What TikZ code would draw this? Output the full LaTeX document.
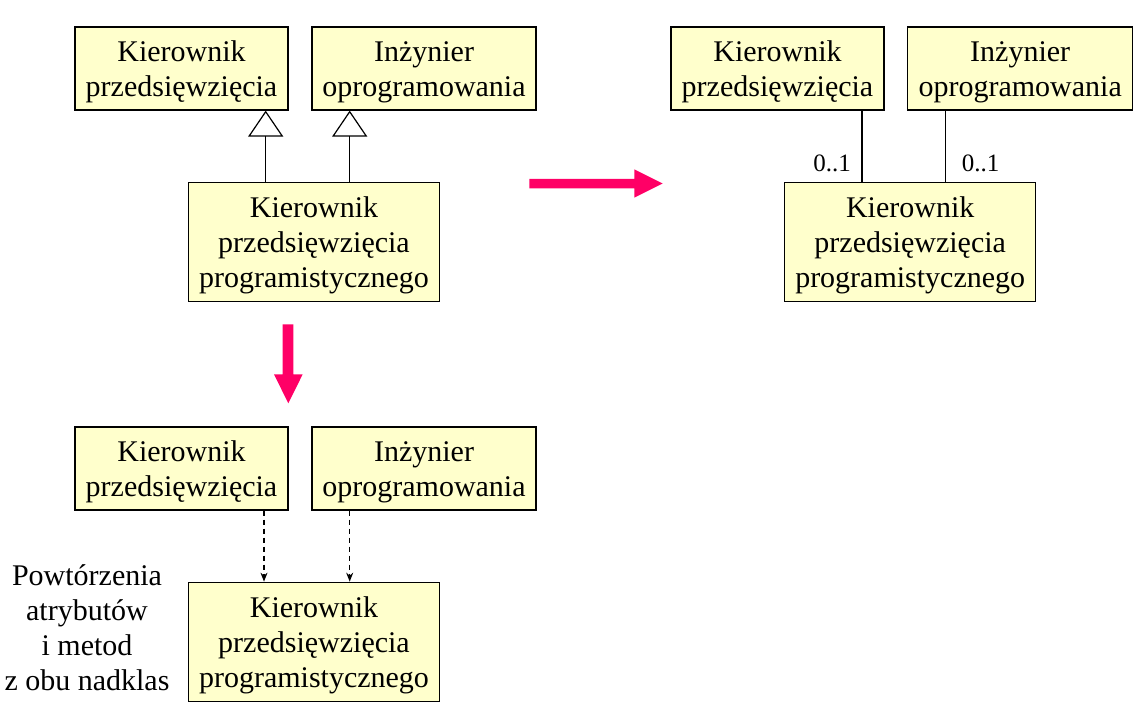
\documentclass[tikz,border=0pt]{standalone}
\usepackage{fontspec}
\setmainfont{Liberation Serif}
\usetikzlibrary{arrows.meta,calc}
\definecolor{boxfill}{HTML}{FFFFCC}
\definecolor{pinkarrow}{HTML}{FF0066}
\newcommand{\toppad}{\rule{0pt}{28pt}}
\begin{document}
\begin{tikzpicture}[x=1pt,y=-1pt,
  cls/.style={draw=black, line width=1.2pt, fill=boxfill, align=center, inner sep=0pt,
    font=\fontsize{30}{35}\selectfont, minimum height=83pt},
  cls3/.style={cls, minimum height=119.5pt, minimum width=251pt},
  gen/.style={line width=1.2pt, -{Triangle[open,length=26pt,width=35pt,line width=1.2pt]}},
  dep/.style={line width=1.2pt, dash pattern=on 5pt off 4pt, -{Stealth[length=9pt,width=7pt]}},
  assoc/.style={line width=1.2pt},
  mult/.style={inner sep=0pt, font=\fontsize{25}{28}\selectfont},
  note/.style={inner sep=0pt, align=center, font=\fontsize{30}{35}\selectfont},
  bigarrow/.style={fill=pinkarrow}
]
\useasboundingbox (0,0) rectangle (1145,711);

% top-left: multiple inheritance
\node[cls, minimum width=213pt] (a1) at (181.5,68.5) {\toppad Kierownik\\przedsięwzięcia};
\node[cls, minimum width=224pt] (a2) at (424,68.5) {\toppad Inżynier\\oprogramowania};
\node[cls3] (a3) at (314,242) {\toppad Kierownik\\przedsięwzięcia\\programistycznego};
\draw[gen] ([xshift=84.2pt]a1.south |- a3.north) -- ([xshift=84.2pt]a1.south);
\draw[gen] ([xshift=-74.3pt]a2.south |- a3.north) -- ([xshift=-74.3pt]a2.south);

% bottom-left: copying
\node[cls, minimum width=213pt] (b1) at (181.5,468.5) {\toppad Kierownik\\przedsięwzięcia};
\node[cls, minimum width=224pt] (b2) at (424,468.5) {\toppad Inżynier\\oprogramowania};
\node[cls3] (b3) at (314,642) {\toppad Kierownik\\przedsięwzięcia\\programistycznego};
\draw[dep] ([xshift=82.5pt]b1.south) -- ([xshift=82.5pt]b1.south |- b3.north);
\draw[dep] ([xshift=-74.3pt]b2.south) -- ([xshift=-74.3pt]b2.south |- b3.north);
\node[note, anchor=north] (n1) at (87,564.5) {Powtórzenia\\atrybutów\\i metod\\z obu nadklas};

% right: association
\node[cls, minimum width=213pt] (r1) at (777.5,68.5) {\toppad Kierownik\\przedsięwzięcia};
\node[cls, minimum width=225pt] (r2) at (1020.2,68.5) {\toppad Inżynier\\oprogramowania};
\node[cls3] (r3) at (910.2,242) {\toppad Kierownik\\przedsięwzięcia\\programistycznego};
\draw[assoc] ([xshift=84.5pt]r1.south) -- ([xshift=84.5pt]r1.south |- r3.north);
\draw[assoc] ([xshift=-74.5pt]r2.south) -- ([xshift=-74.5pt]r2.south |- r3.north);
\node[mult, anchor=base east] (m1) at (851,171.7) {0..1};
\node[mult, anchor=base west] (m2) at (961.7,171.7) {0..1};

% pink transformation arrows
\fill[bigarrow] (529.3,179) -- (634.3,179) -- (634.3,169.3) -- (662.7,183.5)
  -- (634.3,197.7) -- (634.3,188.3) -- (529.3,188.3) -- cycle;
\fill[bigarrow] (282.7,324.3) -- (293.3,324.3) -- (293.3,374.3) -- (302.7,374.3)
  -- (288.3,403.3) -- (274,374.3) -- (282.7,374.3) -- cycle;
\end{tikzpicture}
\end{document}
